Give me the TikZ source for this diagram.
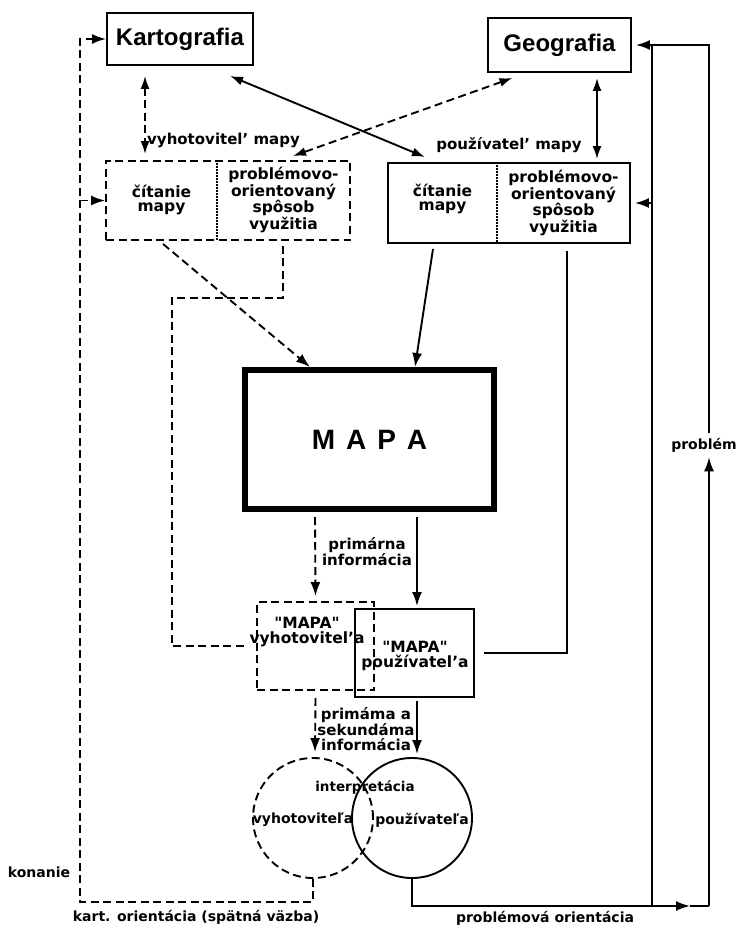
\documentclass[tikz,border=0pt]{standalone}
\usepackage{fontspec}
\setmainfont{DejaVu Sans}[Ligatures=TeXOff]
\newfontfamily\headfont{Liberation Sans}
\usetikzlibrary{arrows.meta,calc}
\begin{document}
\begin{tikzpicture}[x=1pt,y=-1pt,
  lbl/.style={font=\bfseries\fontsize{15}{15}\selectfont, align=center, inner sep=0pt},
  boxtxt/.style={font=\bfseries\fontsize{15.5}{14.8}\selectfont, align=center, inner sep=0pt},
  head/.style={font=\headfont\bfseries\fontsize{24}{24}\selectfont},
  ln/.style={line width=1.9pt},
  dsh/.style={line width=1.9pt, dash pattern=on 8pt off 4.5pt},
  dotl/.style={line width=1.3pt, dash pattern=on 1.5pt off 1.5pt},
  tip/.style={-{Latex[length=14pt,width=10pt]}},
  tips/.style={{Latex[length=13pt,width=9pt]}-{Latex[length=13pt,width=9pt]}},
  sbox/.style={draw, ln, inner sep=0pt},
  dbox/.style={draw, dsh, inner sep=0pt}
]
\useasboundingbox (0,0) rectangle (737,925);

% top boxes
\node[sbox, head, minimum width=146pt, minimum height=52pt] (kart) at (180,39) {Kartografia};
\node[sbox, head, minimum width=143pt, minimum height=54pt] (geo) at (559.5,45) {Geografia};

% maker box
\node[dbox, minimum width=244pt, minimum height=79pt] (mbox) at (228,200.5) {};
\draw[dotl] ([xshift=-11pt]mbox.north) -- ([xshift=-11pt]mbox.south);
\node[boxtxt] (mread) at (161.5,200) {čítanie\\mapy};
\node[boxtxt] (mprob) at (283.5,200) {problémovo-\\orientovaný\\spôsob\\využitia};

% user box
\node[sbox, minimum width=242pt, minimum height=80pt] (ubox) at (509,203) {};
\draw[dotl] ([xshift=-12pt]ubox.north) -- ([xshift=-12pt]ubox.south);
\node[boxtxt] (uread) at (442.5,199) {čítanie\\mapy};
\node[boxtxt] (uprob) at (563.5,203) {problémovo-\\orientovaný\\spôsob\\využitia};

% MAPA
\node[draw, line width=6pt, minimum width=249pt, minimum height=139pt, inner sep=0pt,
  font=\headfont\bfseries\fontsize{28}{28}\selectfont] (mapa) at (369.5,439.5)
  {M\hspace{11pt}A\hspace{11pt}P\hspace{11pt}A};

% small MAPA boxes
\node[dbox, minimum width=117pt, minimum height=88pt] (mmapa) at (315.5,646) {};
\node[sbox, minimum width=119pt, minimum height=88pt] (umapa) at (414.5,653) {};
\node[boxtxt] (mmapat) at (307,632) {"MAPA"\\vyhotovitel’a};
\node[boxtxt] (umapat) at (415,656) {"MAPA"\\používatel’a};

% circles
\node[circle, draw, ln, minimum size=120pt, inner sep=0pt] (ucirc) at (412,818) {};
\node[circle, draw, dsh, minimum size=120pt, inner sep=0pt] (mcirc) at (313,818) {};
\node[lbl, font=\bfseries\fontsize{13.5}{13.5}\selectfont] (interp) at (365,787) {interpretácia};
\node[lbl, font=\bfseries\fontsize{14}{14}\selectfont] (cvyh) at (303,820) {vyhotoviteľa};
\node[lbl, font=\bfseries\fontsize{14}{14}\selectfont] (cpou) at (422,820) {používateľa};

% labels
\node[lbl, anchor=west] (lvyh) at (147,140) {vyhotovitel’ mapy};
\node[lbl] (lpou) at (509,145) {používatel’ mapy};
\node[lbl] (lprim) at (367,552) {primárna\\informácia};
\node[lbl] (lprim2) at (366,729) {primáma a\\sekundáma\\informácia};
\node[lbl, font=\bfseries\fontsize{14}{14}\selectfont] (lkon) at (39,872) {konanie};
\node[lbl, font=\bfseries\fontsize{14}{14}\selectfont] (lkart) at (196,917) {kart. orientácia (spätná väzba)};
\node[lbl, font=\bfseries\fontsize{14}{14}\selectfont] (lporient) at (545,918) {problémová orientácia};
\node[lbl, font=\bfseries\fontsize{14}{14}\selectfont, inner sep=5pt] (prob) at (704,445) {problém};

% coordinates
\coordinate (lb) at (80,902);
\coordinate (ah) at (690,906);
\coordinate (rb) at (709,906);
\coordinate (rt) at (709,45);
\coordinate (vt) at (652,45);
\coordinate (vb) at (652,906);

% connectors top
\draw[dsh, tips] ([xshift=-35pt,yshift=-10pt]kart.south) -- ([xshift=-83pt,yshift=6pt]mbox.north);
\draw[ln, tips] ([xshift=50pt,yshift=-10pt]kart.south) -- ([xshift=-84pt,yshift=5pt]ubox.north);
\draw[dsh, tips] ([xshift=-47pt,yshift=-5pt]geo.south) -- ([xshift=65pt,yshift=4pt]mbox.north);
\draw[ln, tips] ([xshift=37.5pt,yshift=-5pt]geo.south) -- ([xshift=88pt,yshift=3pt]ubox.north);

% to MAPA
\draw[dsh, tip] ([xshift=-65pt,yshift=-3pt]mbox.south) -- ([xshift=-59.5pt]mapa.north);
\draw[ln, tip] ([xshift=-76pt,yshift=-5pt]ubox.south) -- ([xshift=45.5pt]mapa.north);

% side paths to small MAPA boxes
\draw[dsh] ([xshift=55pt,yshift=-5pt]mbox.south) -- ++(0,52) -- ++(-111,0) |- ([xshift=-12pt]mmapa.west);
\draw[ln] ([xshift=58pt,yshift=-7pt]ubox.south) |- ([xshift=9pt]umapa.east);

% MAPA to small boxes
\draw[dsh, tip] ([xshift=-54.5pt,yshift=-5pt]mapa.south) -- ([yshift=5pt]mmapa.north);
\draw[ln, tip] ([xshift=47.5pt,yshift=-5pt]mapa.south) -- ([xshift=2.5pt,yshift=2pt]umapa.north);

% small boxes to circles
\draw[dsh, tip] ([yshift=-7pt]mmapa.south) -- ([xshift=2pt,yshift=5pt]mcirc.north);
\draw[ln, tip] ([xshift=2.5pt,yshift=-3pt]umapa.south) -- ([xshift=5pt,yshift=3pt]ucirc.north);

% feedback loop left
\draw[dsh, tip] (mcirc.south) |- (lb) |- (kart.west);
\draw[dsh, tip] (lb |- mbox.west) -- (mbox.west);

% problem loop right
\draw[ln, tip] (ucirc.south) |- (ah);
\draw[ln] (ah) -- (rb);
\draw[ln, tip] (rb) -- (rb |- prob.south);
\draw[ln, tip] (rt |- prob.north) -- (rt) -- ([xshift=4pt]geo.east);
\draw[ln] (vt) -- (vb);
\draw[ln, tip] (vt |- ubox.east) -- ([xshift=4pt]ubox.east);
\end{tikzpicture}
\end{document}
